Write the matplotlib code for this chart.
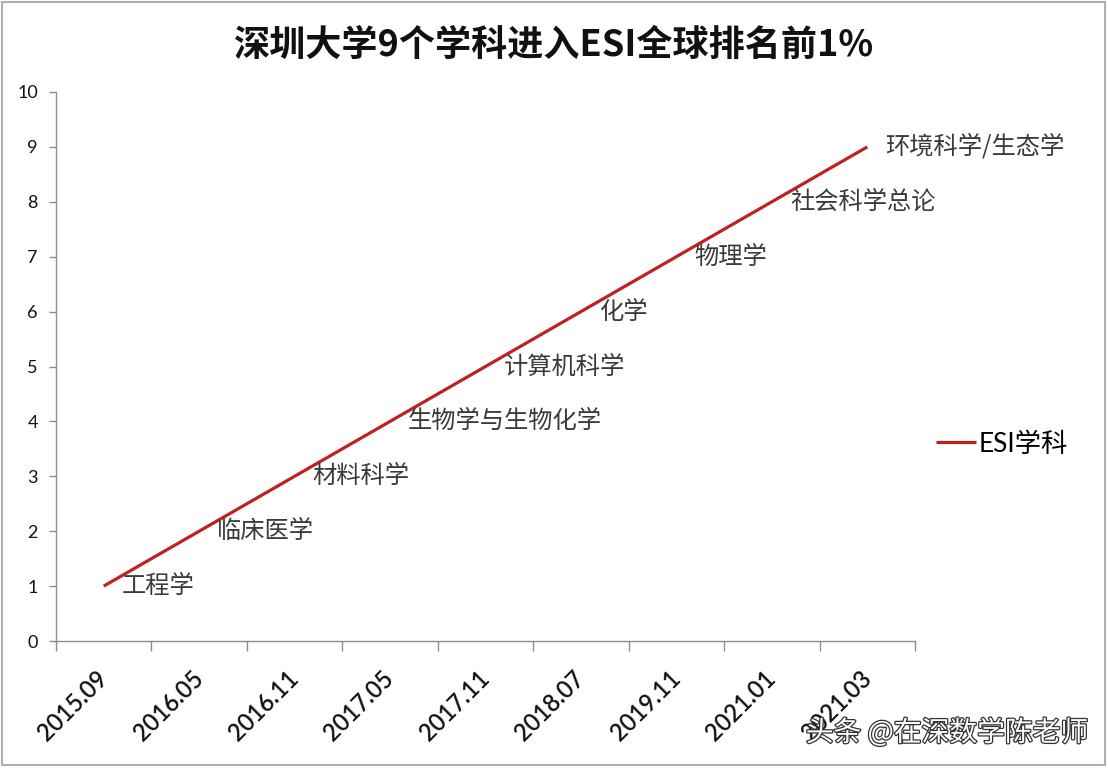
import matplotlib
matplotlib.use('Agg')
import matplotlib.pyplot as plt
import matplotlib.patheffects as pe
from matplotlib.patches import Rectangle
import numpy as np

plt.rcParams['font.family'] = ['Lato', 'Noto Sans CJK SC', 'DejaVu Sans']

# data
dates = ['2015.09', '2016.05', '2016.11', '2017.05', '2017.11',
         '2018.07', '2019.11', '2021.01', '2021.03']
counts = [1, 2, 3, 4, 5, 6, 7, 8, 9]
subjects = ['工程学', '临床医学', '材料科学', '生物学与生物化学', '计算机科学',
            '化学', '物理学', '社会科学总论', '环境科学/生态学']

LINE_RED = '#C0211F'
AXIS_GRAY = '#8C8C8C'

fig = plt.figure(figsize=(11.08, 7.68), dpi=100)
ax = fig.add_axes([56/1108, 1 - 641/768, (915 - 56)/1108, (641 - 92)/768])

x = np.arange(len(dates))
ax.plot(x, counts, color=LINE_RED, linewidth=2.3, label='ESI学科',
        solid_capstyle='butt')

# data labels to the right of each point
for xi, yi, name in zip(x, counts, subjects):
    ax.annotate(name, (xi, yi), xytext=(13, 0), textcoords='offset points',
                ha='left', va='center', fontsize=17.5, color='#3a3a3a',
                family=['Noto Sans CJK SC'])

ax.set_xlim(-0.5, len(dates) - 0.5)
ax.set_ylim(0, 10)

# category boundaries as major ticks, labels on minor ticks at centres
ax.set_xticks(np.arange(-0.5, len(dates)))
ax.set_xticklabels([])
ax.set_xticks(x, minor=True)
ax.set_xticklabels(dates, minor=True)
ax.tick_params(axis='x', which='major', length=7, width=1, color=AXIS_GRAY)
ax.tick_params(axis='x', which='minor', length=0, pad=24, labelsize=17,
               labelcolor='#111111')
for lab in ax.get_xticklabels(minor=True):
    lab.set_rotation(45)
    lab.set_rotation_mode('anchor')
    lab.set_ha('right')
    lab.set_va('center')
    lab.set_fontweight('semibold')

ax.set_yticks(range(0, 11))
ax.tick_params(axis='y', length=5, width=1, color=AXIS_GRAY, pad=8,
               labelsize=13, labelcolor='#111111')

for side in ['top', 'right']:
    ax.spines[side].set_visible(False)
for side in ['left', 'bottom']:
    ax.spines[side].set_color(AXIS_GRAY)
    ax.spines[side].set_linewidth(1)

fig.text(0.5, 1 - 45/768, '深圳大学9个学科进入ESI全球排名前1%', ha='center',
         va='center', fontsize=26, fontweight='bold',
         family=['Noto Sans CJK SC', 'DejaVu Sans'], color='#111111')

ax.legend(loc='center left', bbox_to_anchor=(936/1108, 1 - 444/768),
          bbox_transform=fig.transFigure, frameon=False, fontsize=19,
          handlelength=1.5, handletextpad=0.1, borderpad=0, borderaxespad=0)

# figure border
fig.patches.append(Rectangle((2/1108, 3/768), 1103/1108, 763/768,
                             transform=fig.transFigure, fill=False,
                             edgecolor='#B0B0B0', linewidth=1.5))

# watermark
wm = fig.text(1088/1108, 1 - 733/768, '头条 @在深数学陈老师', ha='right',
              va='center', fontsize=20, color='white',
              family=['Noto Sans CJK SC', 'DejaVu Sans'])
wm.set_path_effects([pe.withStroke(linewidth=1.8, foreground='#333333')])

fig.savefig('out.png', dpi=100, facecolor='white')
